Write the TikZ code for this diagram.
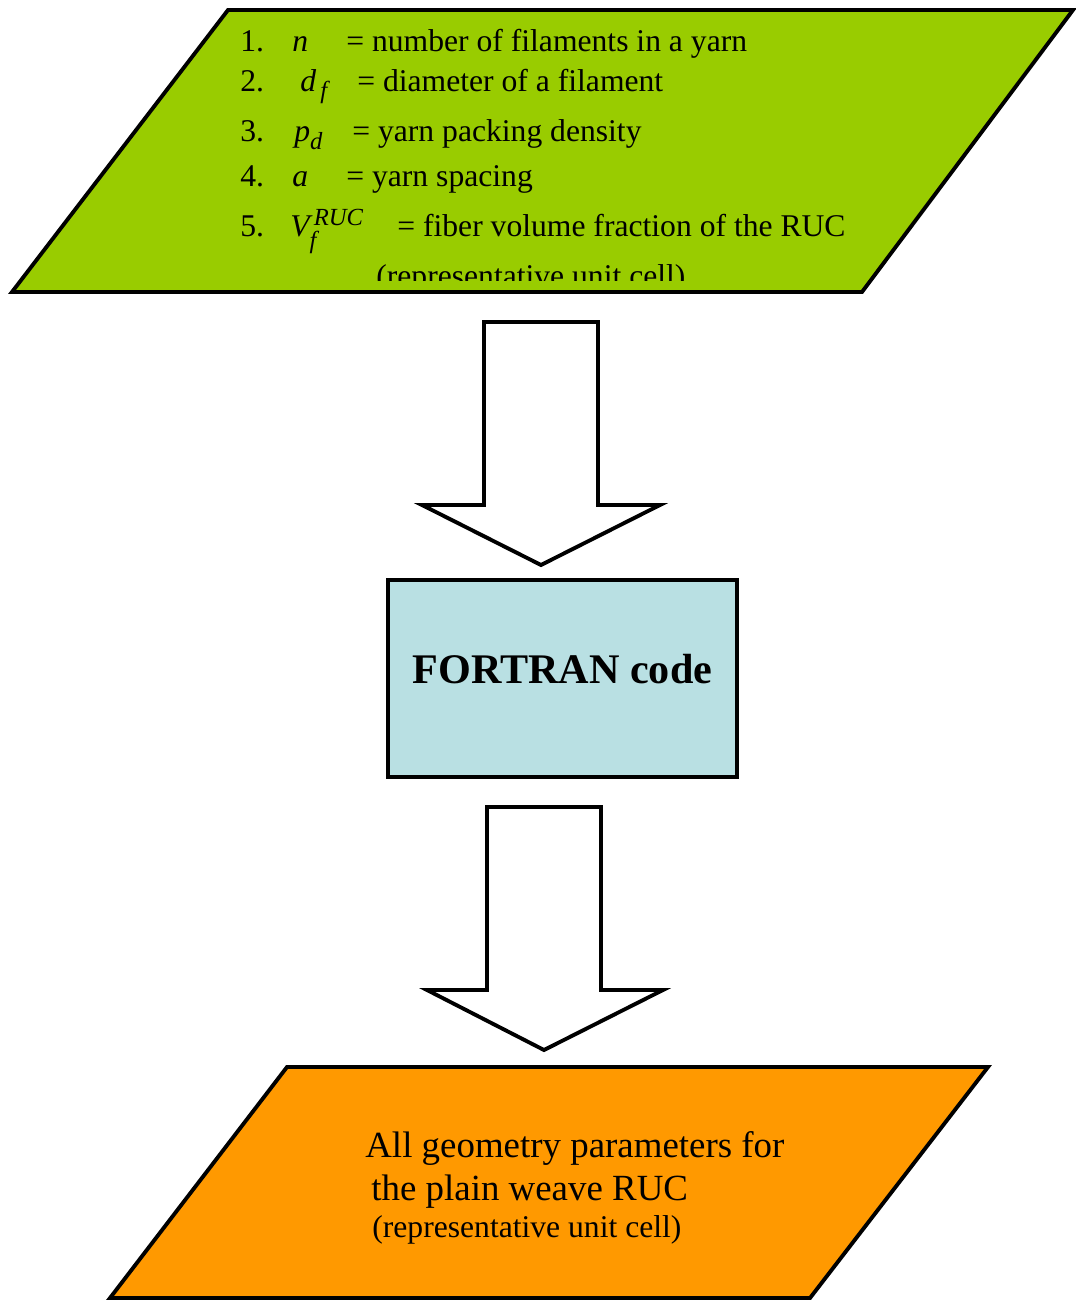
\documentclass[tikz,border=0pt]{standalone}
\usepackage{fontspec}
\usepackage{amsmath}
\setmainfont{Liberation Serif}
\usepackage{tikz}
\usetikzlibrary{positioning}
\DeclareMathSizes{18}{18}{14}{11}
\definecolor{inputcolor}{HTML}{99CC00}
\definecolor{codecolor}{HTML}{B9E0E3}
\definecolor{outputcolor}{HTML}{FF9900}

\begin{document}
\begin{tikzpicture}[x=0.02cm, y=-0.02cm,
  outline/.style={draw, line width=2.2pt, line join=miter},
  listtext/.style={anchor=base west, inner sep=0pt, font=\fontsize{18pt}{21pt}\selectfont},
  outtext/.style={anchor=base west, inner sep=0pt, font=\fontsize{21pt}{25pt}\selectfont}]%
\useasboundingbox (0,0) rectangle (1075,1300);%
% input parameters
\draw[outline, fill=inputcolor] (228,10) -- (1073,10) -- (862,292) -- (12,292) -- cycle;%
\node[listtext] (num1) at (240,52) {1.};%
\node[listtext] (sym1) at (292,52) {\textit{n}};%
\node[listtext] (def1) at (346,52) {= number of filaments in a yarn};%
\node[listtext] (num2) at (240,92) {2.};%
\node[listtext] (sym2) at (300,92) {$\text{\itshape d}_{\,\text{\itshape f}}$};%
\node[listtext] (def2) at (357,92) {= diameter of a filament};%
\node[listtext] (num3) at (240,142) {3.};%
\node[listtext] (sym3) at (294,142) {$\text{\itshape p}_{\text{\itshape d}}$};%
\node[listtext] (def3) at (352,142) {= yarn packing density};%
\node[listtext] (num4) at (240,187) {4.};%
\node[listtext] (sym4) at (292,187) {\textit{a}};%
\node[listtext] (def4) at (346,187) {= yarn spacing};%
\node[listtext] (num5) at (240,237) {5.};%
\node[listtext] (sym5) at (290,237) {$\text{\itshape V}_{\text{\itshape f}}^{\,\text{\itshape RUC}}$};%
\node[listtext] (def5) at (397,237) {= fiber volume fraction of the RUC};%
\begin{scope}%
\clip (0,0) rectangle (1075,281);%
\node[listtext] (def5b) at (376,287) {(representative unit cell)};%
\end{scope}%
% block arrows
\draw[outline, fill=white] (484,322) -- (598,322) -- (598,505) -- (660,505) -- (541,565) -- (422,505) -- (484,505) -- cycle;%
\node[outline, fill=codecolor, minimum width=6.98cm, minimum height=3.94cm, inner sep=0pt] (code) at (562.5,678.5) {};%
\node[anchor=base, inner sep=0pt, font=\fontsize{24pt}{28pt}\selectfont\bfseries] (codelabel) at (562.5,683) {FORTRAN code};%
\draw[outline, fill=white] (487,807) -- (601,807) -- (601,990) -- (663,990) -- (544,1050) -- (427,990) -- (487,990) -- cycle;%
% output
\draw[outline, fill=outputcolor] (287,1067) -- (988,1067) -- (810,1298) -- (110,1298) -- cycle;%
\node[outtext] (out1) at (365,1157) {All geometry parameters for};%
\node[outtext] (out2) at (371,1200) {the plain weave RUC};%
\node[listtext] (out3) at (372,1237) {(representative unit cell)};%
\end{tikzpicture}
\end{document}
